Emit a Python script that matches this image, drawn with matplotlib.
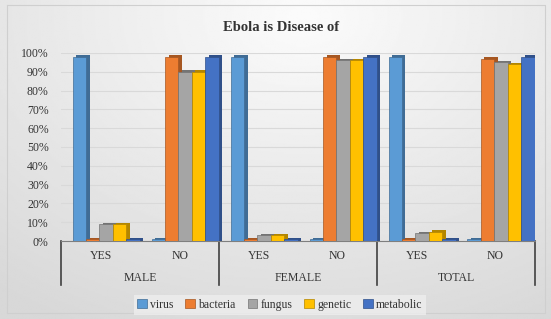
import numpy as np
import matplotlib.pyplot as plt
from matplotlib.colors import to_rgb

# data
groups = ["MALE", "FEMALE", "TOTAL"]
answers = ["YES", "NO"]
series = ["virus", "bacteria", "fungus", "genetic", "metabolic"]
virus = [98, 1, 98, 1, 98, 1]
bacteria = [1, 98, 1, 98, 1, 97]
fungus = [9, 90, 3, 96, 4, 95]
genetic = [9, 90, 3, 96, 5, 94]
metabolic = [1, 98, 1, 98, 1, 98]
values = [virus, bacteria, fungus, genetic, metabolic]
colors = ["#5B9BD5", "#ED7D31", "#A5A5A5", "#FFC000", "#4472C4"]

plt.rcParams['font.family'] = ['Liberation Serif', 'DejaVu Serif']

fig = plt.figure(figsize=(5.51, 3.19), dpi=100)

# background gradient
bg = fig.add_axes([0, 0, 1, 1], zorder=-5)
yy, xx = np.mgrid[0:1:200j, 0:1:300j]
r = np.sqrt(((xx - 0.55) / 0.9) ** 2 + ((yy - 0.05) / 1.1) ** 2)
img = 0.985 - 0.14 * np.clip(r, 0, 1)
bg.imshow(img, cmap="gray", vmin=0, vmax=1, aspect="auto", extent=[0, 1, 0, 1])
bg.plot([0.012, 0.012, 0.99, 0.99, 0.012], [0.985, 0.02, 0.02, 0.985, 0.985],
        color="#cfcfcf", lw=0.8)
bg.set_xlim(0, 1)
bg.set_ylim(0, 1)
bg.axis("off")

ax = fig.add_axes([0.111, 0.2445, 0.86, 0.5895])
ax.set_facecolor("none")

x = np.arange(len(answers) * len(groups))
w = 0.17
for i, (name, vals, c) in enumerate(zip(series, values, colors)):
    pos = x + (i - 2) * w + 0.07
    dark = tuple(v * 0.7 for v in to_rgb(c))
    ax.bar(pos + 0.045, np.array(vals) + 0.8, width=w, color=dark, zorder=2)
    ax.bar(pos, vals, width=w, color=c, edgecolor=dark, linewidth=0.5,
           zorder=3, label=name)

ax.set_ylim(0, 100)
ax.set_xlim(-0.5, 5.5)
ax.set_yticks(np.arange(0, 101, 10))
ax.set_yticklabels([f"{v}%" for v in range(0, 101, 10)], fontsize=8.5, color="#333333")
ax.yaxis.grid(True, color="#d9d9d9", lw=0.8, zorder=0)
ax.set_xticks([])
ax.tick_params(axis="y", length=0, pad=9)
for s in ["top", "right", "left"]:
    ax.spines[s].set_visible(False)
ax.spines["bottom"].set_color("#7f7f7f")

# category labels
tr = ax.get_xaxis_transform()
for k in range(len(groups)):
    for j, a in enumerate(answers):
        ax.text(2 * k + j, -0.08, a, transform=tr, ha="center", va="center",
                fontsize=8.5, color="#333333")
    ax.text(2 * k + 0.5, -0.195, groups[k], transform=tr, ha="center", va="center",
            fontsize=8.5, color="#333333")
for b in [-0.5, 1.5, 3.5, 5.5]:
    ax.plot([b, b], [0, -0.234], transform=tr, color="#404040", lw=1.2, clip_on=False)

fig.text(0.51, 0.915, "Ebola is Disease of", ha="center", va="center",
         fontsize=10.5, fontweight="bold", color="#333333")

leg = fig.legend(loc="center", bbox_to_anchor=(0.508, 0.044), ncol=5, fontsize=8.5,
                 frameon=True, handlelength=0.8, handleheight=0.8, handletextpad=0.3,
                 columnspacing=1.0, borderpad=0.3, fancybox=False)
leg.get_frame().set_facecolor("#eeeeee")
leg.get_frame().set_edgecolor("none")
for t in leg.get_texts():
    t.set_color("#333333")

fig.savefig("out.png", dpi=100)
